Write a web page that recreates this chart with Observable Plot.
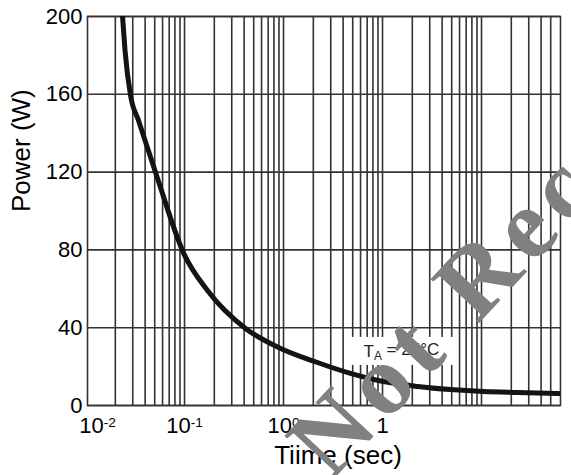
<!DOCTYPE html>
<html><head><meta charset="utf-8">
<script src="https://cdn.jsdelivr.net/npm/d3@7"></script>
<script src="https://cdn.jsdelivr.net/npm/@observablehq/plot@0.6"></script>
<style>
html,body{margin:0;padding:0;background:#fff;}
#chart{width:571px;height:475px;overflow:hidden;}
</style></head><body><div id="chart"></div>
<script>
// Curve (x in the grid's log units, power in W)
const timeSec = [0.02366, 0.02506, 0.02848, 0.0343, 0.05299, 0.0984, 0.1707, 0.413, 0.89, 2.2, 4.75, 10.2, 22.6, 48.6, 105, 231, 600];
const powerW  = [200, 182.5, 159.4, 146.5, 117.2, 78.1, 59.1, 39.6, 29.8, 22.1, 16.5, 12.3, 9.8, 8.2, 7.2, 6.7, 6.2];

const yTicks = [0, 40, 80, 120, 160, 200];
const xTickValues = [0.0132, 0.1, 1, 10, 92, 586];
const xTickLabels = ["10^-2", "10^-1", "10^0", "1", "10", "30"];
const gridDecades = [0.01, 0.1, 1, 10, 100];
const gridMultipliers = [1, 2, 3, 4, 5, 6, 7, 8, 9];
const xDomain = [0.01047, 628];
const yDomain = [0, 200];

const xTitle = "Tiime (sec)";
const yTitle = "Power (W)";
const annotation = {t: 15.7, p: 27.8, main: "T", sub: "A", rest: " = 25°C"};
const watermark = "Not Recommended for New Design";

const xGrid = gridDecades.flatMap(d => gridMultipliers.map(m => +(d * m).toPrecision(3)))
  .filter(v => v > xDomain[0] * 1.05 && v < 590);
const tickLabelOf = new Map(xTickValues.map((v, i) => [v, xTickLabels[i]]));
const data = timeSec.map((t, i) => ({t, p: powerW[i]}));

const gridColor = "#333";

const plot = Plot.plot({
  width: 571, height: 475,
  marginLeft: 87, marginRight: 11, marginTop: 16, marginBottom: 70,
  style: {fontFamily: "'Liberation Sans', Arial, sans-serif", fontSize: "22px", background: "#fff", color: "#000"},
  x: {type: "log", domain: xDomain},
  y: {domain: yDomain},
  marks: [
    Plot.ruleX(xGrid, {stroke: gridColor, strokeWidth: 1.6}),
    Plot.ruleY(yTicks, {stroke: gridColor, strokeWidth: 1.6}),
    Plot.frame({stroke: gridColor, strokeWidth: 1.6}),
    Plot.line(data, {x: "t", y: "p", curve: "monotone-x", stroke: "#141414", strokeWidth: 5, clip: true}),
    Plot.axisX({ticks: xTickValues, tickFormat: d => tickLabelOf.get(d), tickSize: 0, tickPadding: 12, fontSize: 22, label: null}),
    Plot.axisY({ticks: yTicks, tickSize: 0, tickPadding: 5, fontSize: 22, label: null}),
    Plot.text([xTitle], {frameAnchor: "bottom", dx: 14, dy: 58, fontSize: 26, fill: "#000"}),
    Plot.text([yTitle], {frameAnchor: "left", rotate: -90, dx: -66, dy: 1, fontSize: 26, fill: "#000"})
  ]
});
document.getElementById("chart").appendChild(plot);

// superscript exponents in x tick labels
d3.select(plot).selectAll('g[aria-label="x-axis tick label"] text').each(function() {
  const s = this.textContent;
  if (s.includes("^")) {
    const [base, exp] = s.split("^");
    const el = d3.select(this);
    el.text(base);
    el.append("tspan").attr("dy", "-0.45em").attr("font-size", "0.62em").text(exp);
  }
});

// T_A annotation with white box
const xs = plot.scale("x"), ys = plot.scale("y");
const ax = xs.apply(annotation.t), ay = ys.apply(annotation.p);
const ag = d3.select(plot).append("g");
const rect = ag.append("rect").attr("fill", "#fff");
const txt = ag.append("text").attr("x", ax).attr("y", ay).attr("text-anchor", "middle")
  .attr("dy", "0.35em").attr("font-size", 17).attr("fill", "#222");
txt.append("tspan").text(annotation.main);
txt.append("tspan").attr("dy", "0.3em").attr("font-size", "0.7em").text(annotation.sub);
txt.append("tspan").attr("dy", "-0.3em").text(annotation.rest);
const bb = txt.node().getBBox();
rect.attr("x", bb.x - 15).attr("width", bb.width + 30).attr("y", ay - 14).attr("height", 28);

// watermark
d3.select(plot).append("text")
  .attr("transform", "translate(331,482) rotate(-47)")
  .attr("text-anchor", "start")
  .attr("letter-spacing", 8.5)
  .attr("font-family", "'Liberation Serif', 'Times New Roman', serif")
  .attr("font-weight", "bold").attr("font-size", 100).attr("fill", "#808080")
  .text(watermark);
</script></body></html>
